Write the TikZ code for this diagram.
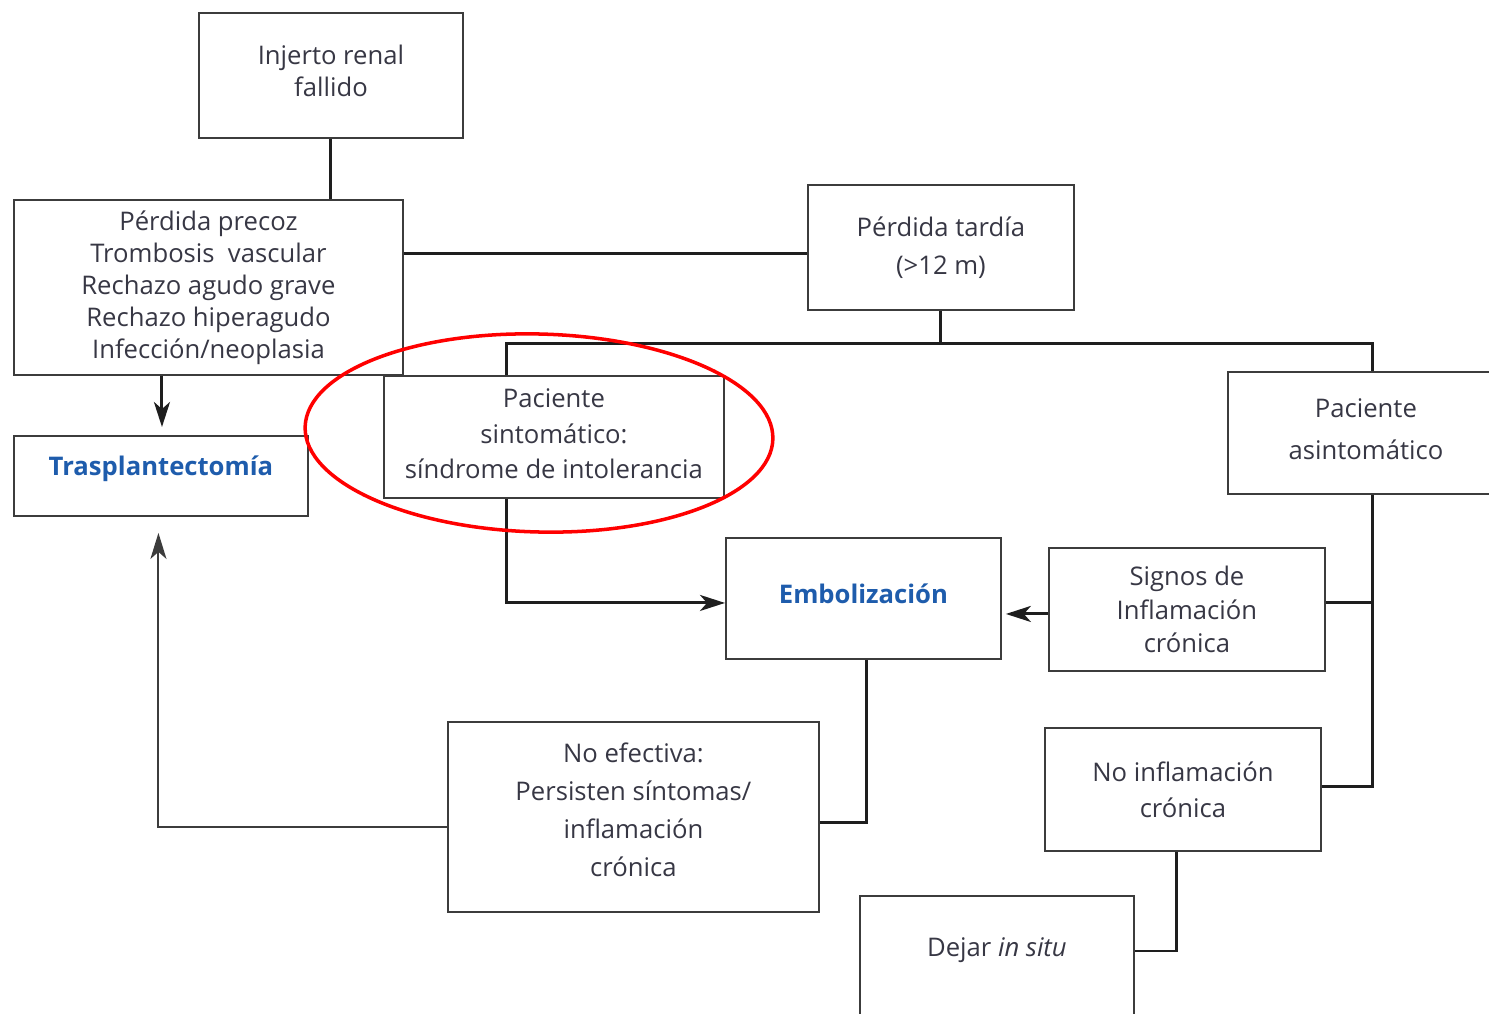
\documentclass[tikz,border=0pt]{standalone}
\usepackage{fontspec}
\setmainfont{Open Sans}
\usetikzlibrary{arrows.meta}
\definecolor{txt}{RGB}{55,55,68}
\definecolor{bl}{RGB}{30,92,172}
\definecolor{ln}{RGB}{30,30,30}
\definecolor{bd}{RGB}{60,60,60}
\begin{document}
\begin{tikzpicture}[x=0.02cm,y=-0.02cm,
  box/.style={draw=bd, line width=1.1pt, inner sep=0pt, align=center, text=txt,
    anchor=north west, font=\fontsize{14.6}{18.2}\selectfont},
  ls/.style={font=\fontsize{14.6}{#1}\selectfont},
  hl/.style={text=bl, font=\fontsize{14.6}{16}\selectfont\bfseries},
  conn/.style={draw=ln, line width=1.7pt},
  arr/.style={conn, -{Stealth[length=0.5cm,width=0.32cm,inset=0.14cm]}},
  back/.style={draw=bd, line width=1.1pt, -{Stealth[length=0.52cm,width=0.32cm,inset=0.14cm]}},
  ring/.style={draw=red, line width=2pt}]
\path[use as bounding box] (0,0) rectangle (1489,1014);

\node[box, text depth=0.2cm, minimum width=5.28cm, minimum height=2.50cm] (A) at (198,12) {Injerto renal\\fallido};
\node[box, minimum width=7.78cm, minimum height=3.50cm] (B) at (13,199) {Pérdida precoz\\Trombosis\ \ vascular\\Rechazo agudo grave\\Rechazo hiperagudo\\Infección/neoplasia};
\node[box, ls=21.6, minimum width=5.32cm, minimum height=2.50cm] (C) at (807,184) {Pérdida tardía\\(>12 m)};
\node[box, hl, text depth=0.42cm, minimum width=5.88cm, minimum height=1.60cm] (D) at (13,435) {Trasplantectomía};
\node[box, ls=20.2, text depth=0.12cm, minimum width=6.80cm, minimum height=2.44cm] (E) at (383,375) {Paciente\\sintomático:\\síndrome de intolerancia};
\node[box, ls=23.9, text depth=0.16cm, minimum width=5.52cm, minimum height=2.44cm] (F) at (1227,371) {Paciente\\asintomático};
\node[box, hl, text depth=0.2cm, minimum width=5.50cm, minimum height=2.42cm] (G) at (725,537) {Embolización};
\node[box, ls=19.3, minimum width=5.52cm, minimum height=2.46cm] (H) at (1048,547) {Signos de\\Inflamación\\crónica};
\node[box, ls=21.6, text depth=0.28cm, minimum width=7.42cm, minimum height=3.80cm] (I) at (447,721) {No efectiva:\\Persisten síntomas/\\inflamación\\crónica};
\node[box, ls=20.5, minimum width=5.52cm, minimum height=2.46cm] (J) at (1044,727) {No inflamación\\crónica};
\node[box, text depth=1.24cm, minimum width=5.48cm, minimum height=3.30cm] (K) at (859,895) {Dejar \textit{in situ}};

% connectors
\draw[conn] (A.south) -- (A.south |- B.north);
\coordinate (cw) at ([yshift=-0.13cm]C.west);
\draw[conn] (B.east |- cw) -- (cw);
\coordinate (sp) at ([yshift=-0.66cm]C.south);
\draw[conn] (C.south) -- (sp);
\coordinate (en) at ([xshift=2.48cm]E.north west);
\coordinate (fn) at ([xshift=2.92cm]F.north west);
\draw[conn] (en) |- (sp) -| (fn);

\coordinate (bs) at ([xshift=2.98cm]B.south west);
\draw[arr, shorten >=0.16cm] (bs) -- (bs |- D.north);

\coordinate (es) at ([xshift=2.48cm]E.south west);
\coordinate (gw) at ([yshift=-0.09cm]G.west);
\draw[arr] (es) |- (gw);

\coordinate (hw) at ([yshift=-0.09cm]H.west);
\draw[arr, shorten >=0.08cm] (hw) -- (G.east |- hw);

\coordinate (fs) at ([xshift=2.92cm]F.south west);
\coordinate (he) at ([yshift=0.13cm]H.east);
\coordinate (je) at ([yshift=0.05cm]J.east);
\draw[conn] (fs) |- (je);
\draw[conn] (he) -- (fs |- he);

\coordinate (ie) at ([yshift=-0.12cm]I.east);
\draw[conn] ([xshift=0.07cm]G.south) |- (ie);

\draw[back] ([yshift=-0.2cm]I.west) -| ([xshift=-0.05cm,yshift=-0.32cm]D.south);

\draw[conn] ([xshift=-0.12cm]J.south) |- ([yshift=-1.12cm]K.north east);

% highlight ring
\draw[ring] (539,433) ellipse [x radius=4.68cm, y radius=1.98cm, rotate=-1.5];
\end{tikzpicture}
\end{document}
